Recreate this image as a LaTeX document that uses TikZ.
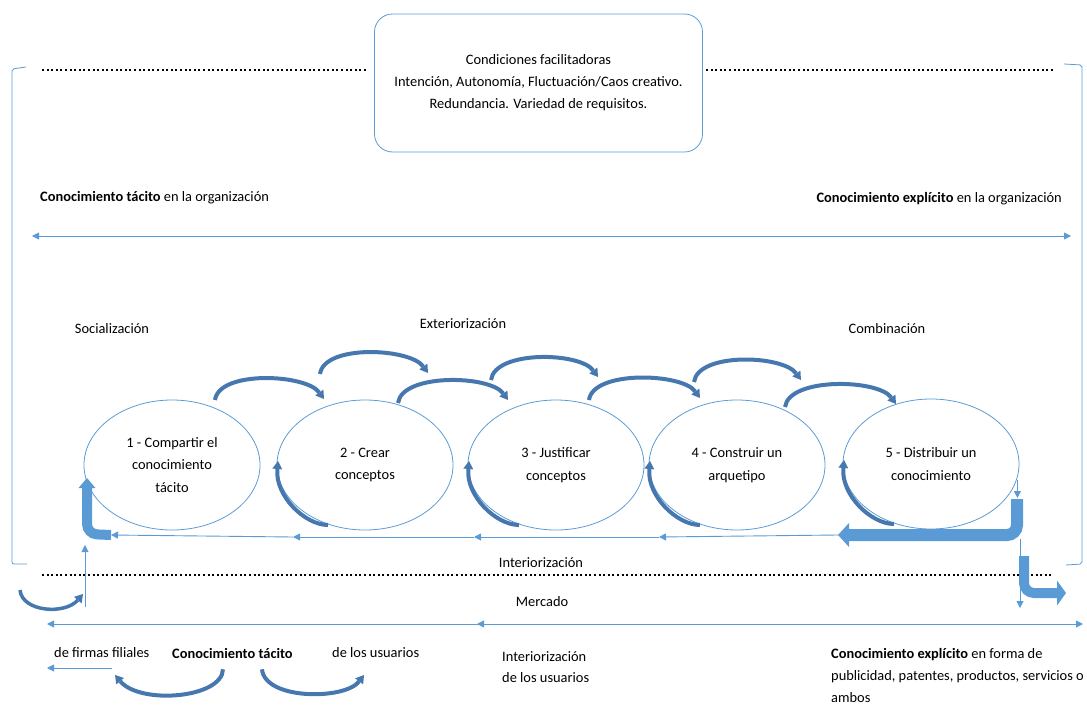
\documentclass[tikz,border=0pt]{standalone}
\usepackage{fontspec}
\setmainfont{Carlito}
\usetikzlibrary{arrows.meta, calc, shapes.geometric}

\definecolor{lineblue}{RGB}{91,155,213}
\definecolor{arcblue}{RGB}{70,120,175}
\definecolor{blockblue}{RGB}{91,155,213}

\tikzset{
    txt/.style = {inner sep=0pt, font=\fontsize{14.4}{22.5}\selectfont},
    thinarrow/.style = {lineblue, line width=0.9pt, ->},
    arcarrow/.style = {arcblue, line width=4pt, -{Triangle[length=8pt, width=10pt, line width=0pt]}},
    blockarrow/.style = {blockblue, line width=11pt, rounded corners=10pt},
    dotline/.style = {line width=2pt, dash pattern=on 2pt off 2.6pt},
    phase/.style = {ellipse, draw=lineblue, line width=0.8pt, minimum width=176pt, minimum height=130pt, align=center, txt}
}

\begin{document}
\begin{tikzpicture}[x=1pt, y=-1pt, >={Triangle[length=7pt, width=7pt]}]
    \useasboundingbox (0,0) rectangle (1087,706);

    %% condiciones facilitadoras
    \node [draw=lineblue, line width=0.8pt, rounded corners=18pt, minimum width=328pt, minimum height=138pt, align=center, txt, font=\fontsize{14.4}{22}\selectfont] (cond) at (538.5,83)
        {Condiciones facilitadoras\\Intención, Autonomía, Fluctuación/Caos creativo.\\Redundancia. Variedad de requisitos.};

    %% brackets and dotted limits
    \draw [lineblue, line width=0.8pt, rounded corners=2pt] (26,67) -- (12,69) -- (12,564) -- (27,564);
    \draw [lineblue, line width=0.8pt, rounded corners=2pt] (1064,64) -- (1082,65) -- (1082,564) -- (1066,565);
    \draw [dotline] (42,70) -- (368,70);
    \draw [dotline] (706,70) -- (1055,70);
    \draw [dotline] (42,575) -- (1053,575);

    %% organizacion
    \node [txt, anchor=west] (tacorg) at (40,198) {\textbf{Conocimiento tácito} en la organización};
    \node [txt, anchor=east] (exporg) at (1062,199) {\textbf{Conocimiento explícito} en la organización};
    \draw [thinarrow, <->] (32,236) -- (1071,236);

    \node [txt] (soc) at (112,329) {Socialización};
    \node [txt] (ext) at (463,324) {Exteriorización};
    \node [txt] (comb) at (887,329) {Combinación};

    %% las cinco fases
    \node [phase] (e1) at (172,465) {1 - Compartir el\\conocimiento\\tácito};
    \node [phase] (e2) at (365,465) {2 - Crear\\conceptos};
    \node [phase] (e3) at (556,465) {3 - Justificar\\conceptos};
    \node [phase] (e4) at (737,465) {4 - Construir un\\arquetipo};
    \node [phase] (e5) at (931,464) {5 - Distribuir un\\conocimiento};

    %% arcs between the phases
    \foreach \a/\b/\sx/\sy/\ex/\ey in {e1/e2/43/-65/-41/-66, e2/e3/33/-62/-48/-65, e3/e4/33/-65/-37/-67, e4/e5/48/-58/-35/-60}
    {
        \draw [arcarrow] ($(\a)+(\sx,\sy)$) .. controls +(4,-30) and +(-18,-25) .. ($(\b)+(\ex,\ey)$);
    }
    \foreach \a/\sx/\sy/\ex/\ey in {e2/-45/-91/63/-92, e3/-65/-85/42/-88, e4/-43/-83/64/-85}
    {
        \draw [arcarrow] ($(\a)+(\sx,\sy)$) .. controls +(4,-30) and +(-18,-25) .. ($(\a)+(\ex,\ey)$);
    }
    \foreach \a in {e2,e3,e4,e5}
    {
        \draw [arcarrow, line width=4pt] ($(\a)+(-37,60)$) .. controls +(-23,0) and +(-3,35) .. ($(\a)+(-87,-4)$);
    }

    %% interiorizacion
    \coordinate (i0) at (838,535);
    \coordinate (i1) at (659,537);
    \coordinate (i2) at (474,537);
    \coordinate (i3) at (293,537);
    \coordinate (i4) at (111,535);
    \foreach \p/\q in {i0/i1, i1/i2, i2/i3, i3/i4}
    {
        \draw [thinarrow] (\p) -- (\q);
    }
    \draw [blockarrow, line width=10pt, -{Triangle[width=17pt, length=10pt, line width=0pt]}] (i4) -- (87,534) -- (87,478);
    \draw [thinarrow] ($(e5.east)+(-2,16)$) -- ++(0,18);
    \draw [blockarrow, line width=12pt, -{Triangle[width=24pt, length=11pt, line width=0pt]}] (1017,499) -- (1017,535) -- (i0);

    \node [txt] (inter) at (541,563) {Interiorización};

    %% mercado
    \draw [thinarrow] (1020,539) -- (1020,608);
    \draw [blockarrow, line width=10pt, -{Triangle[width=25pt, length=9pt, line width=0pt]}] (1024,556) -- (1024,593) -- (1066,593);
    \draw [thinarrow] (85,607) -- (85,545);
    \draw [arcarrow, line width=3.5pt] (20,590) .. controls (22,612) and (65,615) .. (83,594);

    \node [txt] (merc) at (542,602) {Mercado};
    \coordinate (mid) at (477,624);
    \draw [thinarrow] (mid) -- (47,624);
    \draw [thinarrow] (mid) -- (1083,624);
    \draw [thinarrow] (530,624) -- (mid);

    %% usuarios
    \node [txt, anchor=west] (filiales) at (54,653) {de firmas filiales};
    \node [txt, anchor=west] (tacusr) at (172,653) {\textbf{Conocimiento tácito}};
    \node [txt, anchor=west] (usuarios) at (332,653) {de los usuarios};
    \node [txt, anchor=west, align=left, font=\fontsize{14.4}{21}\selectfont] (intusr) at (502,667) {Interiorización\\de los usuarios};
    \node [txt, anchor=west, align=left, font=\fontsize{14.4}{22}\selectfont] (expusr) at (831,675)
        {\textbf{Conocimiento explícito} en forma de\\publicidad, patentes, productos, servicios o\\ambos};

    \draw [thinarrow] (112,668) -- (47,668);
    \draw [arcarrow] ($(tacusr.south west)+(51,11)$) .. controls +(-1,29) and +(25,30) .. (115,675);
    \draw [arcarrow] ($(tacusr.south west)+(90,11)$) .. controls +(3,31) and +(-19,25) .. (364,675);

\end{tikzpicture}
\end{document}
